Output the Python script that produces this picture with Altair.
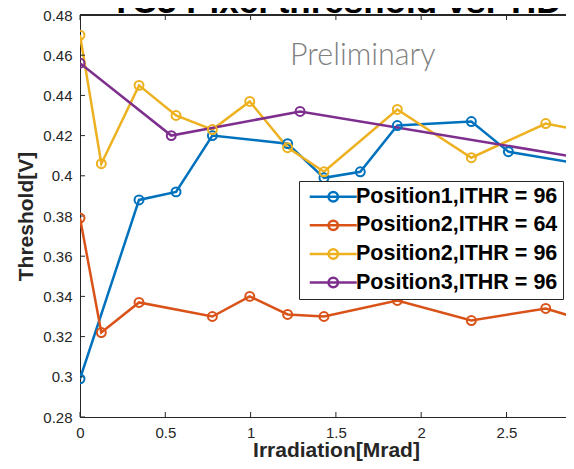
import altair as alt
import pandas as pd

# ---- data ----
series = ["Position1,ITHR = 96", "Position2,ITHR = 64", "Position2,ITHR = 96", "Position3,ITHR = 96"]
colors = ["#0072BD", "#D95319", "#EDB120", "#7E2F8E"]

p1_x = [0, 0.346, 0.563, 0.776, 1.217, 1.43, 1.643, 1.86, 2.294, 2.511, 3.0]
p1_y = [0.299, 0.388, 0.392, 0.420, 0.416, 0.399, 0.402, 0.425, 0.427, 0.412, 0.405]

p2a_x = [0, 0.125, 0.346, 0.776, 0.995, 1.217, 1.43, 1.86, 2.294, 2.73, 3.0]
p2a_y = [0.379, 0.322, 0.337, 0.330, 0.340, 0.331, 0.330, 0.338, 0.328, 0.334, 0.327]

p2b_x = [0, 0.125, 0.346, 0.563, 0.776, 0.995, 1.217, 1.43, 1.86, 2.294, 2.73, 3.0]
p2b_y = [0.470, 0.406, 0.445, 0.430, 0.423, 0.437, 0.414, 0.402, 0.433, 0.409, 0.426, 0.4216]

p3_x = [0, 0.535, 1.29, 3.0]
p3_y = [0.456, 0.420, 0.432, 0.408]

x_ticks = [0, 0.5, 1, 1.5, 2, 2.5]
y_ticks = [0.28, 0.30, 0.32, 0.34, 0.36, 0.38, 0.40, 0.42, 0.44, 0.46, 0.48]

title_text = "TC3 Pixel threshold vs. TID"
note_text = "Preliminary"
note_pos = (1.231, 0.4551)

rows = []
for name, xs_, ys_ in zip(series, [p1_x, p2a_x, p2b_x, p3_x], [p1_y, p2a_y, p2b_y, p3_y]):
    for i, (a, b) in enumerate(zip(xs_, ys_)):
        rows.append({"series": name, "x": a, "y": b, "i": i})
df = pd.DataFrame(rows)

W, H = 486, 402
FONT = "Liberation Sans"
AX = "#262626"

xs = alt.Scale(domain=[0, W / 170.6], nice=False, zero=False)
ys = alt.Scale(domain=[0.28, 0.48], nice=False, zero=False)

color = alt.Color(
    "series:N",
    scale=alt.Scale(domain=series, range=colors),
    legend=alt.Legend(
        title=None,
        orient="none",
        legendX=219,
        legendY=166,
        symbolType="M-4.7,0H4.7M0.94,0A0.94,0.94,0,1,1,-0.94,0A0.94,0.94,0,1,1,0.94,0",
        symbolSize=100,
        symbolOffset=18.5,
        symbolStrokeWidth=2.5,
        symbolFillColor="transparent",
        labelFont=FONT,
        labelFontSize=21.5,
        labelFontWeight="bold",
        labelColor="black",
        labelOffset=12,
        labelLimit=500,
        strokeColor=AX,
        fillColor="white",
        padding=5,
        rowPadding=5.6,
    ),
)

x_axis = alt.Axis(
    values=x_ticks, format="~g", title="Irradiation[Mrad]",
    titleX=256, titleY=39, titleBaseline="alphabetic", titleAlign="center",
    titleFont=FONT, titleFontSize=21, titleFontWeight="bold", titleColor=AX,
    labelFont=FONT, labelFontSize=15, labelColor=AX, labelPadding=8,
    labelFlush=False, labelOverlap=False,
    ticks=False, tickSize=0, grid=False, domainColor=AX, domainWidth=1,
)
y_axis = alt.Axis(
    values=y_ticks, format="~g", title="Threshold[V]",
    titleX=-48, titleBaseline="alphabetic", titleAngle=270,
    titleFont=FONT, titleFontSize=21, titleFontWeight="bold", titleColor=AX,
    labelFont=FONT, labelFontSize=15, labelColor=AX, labelPadding=8,
    labelFlush=False, labelOverlap=False,
    ticks=False, tickSize=0, grid=False, domainColor=AX, domainWidth=1,
)

base = alt.Chart(df)
lines = base.mark_line(strokeWidth=2.5, clip=True).encode(
    x=alt.X("x:Q", scale=xs, axis=x_axis),
    y=alt.Y("y:Q", scale=ys, axis=y_axis),
    color=color,
    order="i:Q",
)
points = base.mark_point(shape="circle", filled=False, size=80, strokeWidth=2, opacity=1, clip=True).encode(
    x=alt.X("x:Q", scale=xs, axis=x_axis),
    y=alt.Y("y:Q", scale=ys, axis=y_axis),
    color=alt.Color("series:N", scale=alt.Scale(domain=series, range=colors), legend=None),
)

xt = pd.DataFrame({"x": x_ticks})
yt = pd.DataFrame({"y": y_ticks})
xtick_bot = alt.Chart(xt).mark_rule(color=AX, strokeWidth=1).encode(
    x=alt.X("x:Q", scale=xs, axis=x_axis), y=alt.value(H), y2=alt.value(H - 5))
xtick_top = alt.Chart(xt).mark_rule(color=AX, strokeWidth=1).encode(
    x=alt.X("x:Q", scale=xs, axis=x_axis), y=alt.value(0), y2=alt.value(5))
ytick = alt.Chart(yt).mark_rule(color=AX, strokeWidth=1).encode(
    y=alt.Y("y:Q", scale=ys, axis=y_axis), x=alt.value(0), x2=alt.value(5))
top_border = alt.Chart(xt).mark_rule(color=AX, strokeWidth=1).encode(
    x=alt.value(0), x2=alt.value(W), y=alt.value(0))

note = alt.Chart(pd.DataFrame({"x": [note_pos[0]], "y": [note_pos[1]], "t": [note_text]})).mark_text(
    font="Lato", fontSize=30.5, fontWeight=300, color="#808080", align="left", baseline="alphabetic"
).encode(x=alt.X("x:Q", scale=xs, axis=x_axis), y=alt.Y("y:Q", scale=ys, axis=y_axis), text="t:N")

title = alt.Chart(pd.DataFrame({"t": [title_text]})).mark_text(
    font=FONT, fontSize=35, fontWeight="bold", color="black", align="center", baseline="alphabetic"
).encode(x=alt.value(256), y=alt.value(-2), text="t:N")

chart = alt.layer(
    lines, xtick_bot, xtick_top, ytick, top_border, note, points, title
).properties(
    width=W, height=H,
    padding={"left": 72, "top": 7, "right": 0, "bottom": 44},
    autosize=alt.AutoSizeParams(type="none"),
).configure_view(stroke=None).configure(background="white")

chart.save("out.html", embed_options={"renderer": "svg", "actions": False})
